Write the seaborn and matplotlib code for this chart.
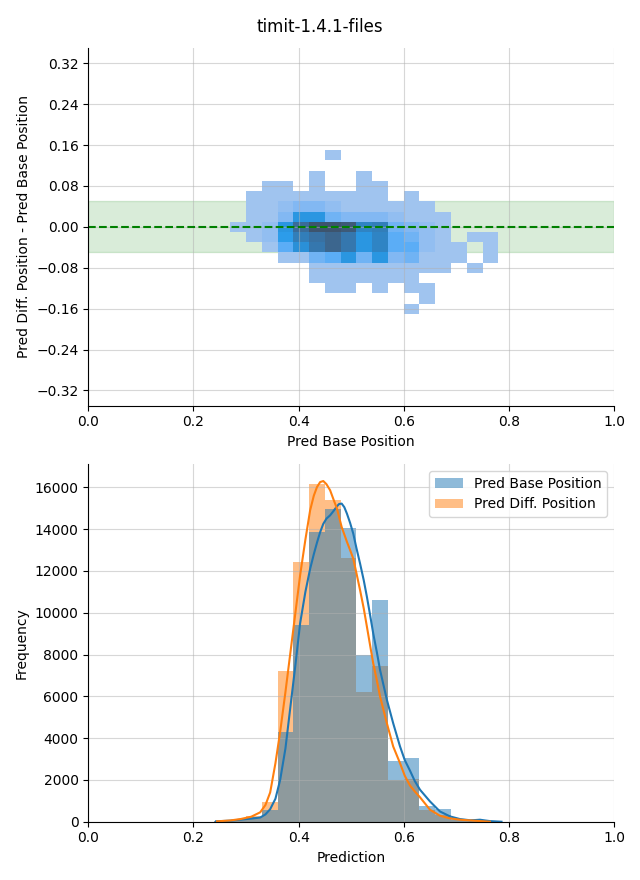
import numpy as np
import pandas as pd
import matplotlib
matplotlib.use("Agg")
import matplotlib.pyplot as plt
import seaborn as sns

# ---- top panel: 2D histogram (Pred Base Position vs difference) ----
# bin centres
base_centres = [0.285, 0.315, 0.345, 0.375, 0.405, 0.435, 0.465, 0.495, 0.525,
                0.555, 0.585, 0.615, 0.645, 0.675, 0.705, 0.735, 0.765]
diff_centres = [0.14, 0.12, 0.10, 0.08, 0.06, 0.04, 0.02, 0.00,
                -0.02, -0.04, -0.06, -0.08, -0.10, -0.12, -0.14, -0.16]
# relative counts per cell (rows = diff_centres, cols = base_centres)
cell_counts = [
    [0, 0, 0, 0, 0, 0, 1, 0, 0, 0, 0, 0, 0, 0, 0, 0, 0],
    [0, 0, 0, 0, 0, 0, 0, 0, 0, 0, 0, 0, 0, 0, 0, 0, 0],
    [0, 0, 0, 0, 0, 1, 0, 0, 1, 0, 0, 0, 0, 0, 0, 0, 0],
    [0, 0, 1, 1, 0, 1, 0, 0, 1, 1, 0, 0, 0, 0, 0, 0, 0],
    [0, 1, 1, 1, 1, 1, 1, 1, 1, 1, 0, 1, 0, 0, 0, 0, 0],
    [0, 1, 1, 2, 3, 3, 2, 1, 1, 1, 1, 1, 1, 0, 0, 0, 0],
    [0, 1, 1, 3, 9, 9, 4, 3, 3, 3, 2, 1, 1, 1, 0, 0, 0],
    [1, 1, 2, 9, 16, 20, 20, 19, 12, 13, 4, 3, 2, 1, 0, 0, 0],
    [0, 1, 2, 8, 13, 15, 17, 14, 9, 12, 5, 4, 2, 1, 0, 1, 1],
    [0, 0, 1, 5, 10, 14, 17, 14, 9, 12, 5, 5, 2, 1, 1, 0, 1],
    [0, 0, 0, 1, 1, 4, 5, 9, 4, 9, 3, 4, 1, 1, 1, 0, 1],
    [0, 0, 0, 0, 0, 1, 1, 1, 1, 1, 1, 1, 1, 1, 0, 1, 0],
    [0, 0, 0, 0, 0, 1, 1, 1, 1, 1, 1, 1, 0, 0, 0, 0, 0],
    [0, 0, 0, 0, 0, 0, 1, 1, 0, 1, 0, 1, 1, 0, 0, 0, 0],
    [0, 0, 0, 0, 0, 0, 0, 0, 0, 0, 0, 0, 1, 0, 0, 0, 0],
    [0, 0, 0, 0, 0, 0, 0, 0, 0, 0, 0, 1, 0, 0, 0, 0, 0],
]

# ---- bottom panel: histograms of the two predictions ----
pred_centres = [0.255, 0.285, 0.315, 0.345, 0.375, 0.405, 0.435, 0.465, 0.495,
                0.525, 0.555, 0.585, 0.615, 0.645, 0.675, 0.705, 0.735, 0.765]
base_counts = [20, 80, 220, 570, 4310, 9410, 13870, 14980, 14030,
               7980, 10600, 2910, 3040, 760, 605, 120, 60, 30]
diff_counts = [20, 90, 250, 920, 7210, 12420, 16140, 15380, 12620,
               6230, 7450, 2010, 2040, 560, 300, 80, 30, 5]

# kde curves
kde_base_x = [0.243, 0.27, 0.29, 0.31, 0.327, 0.337, 0.346, 0.356, 0.365, 0.375,
              0.384, 0.394, 0.403, 0.413, 0.422, 0.429, 0.435, 0.441, 0.447,
              0.453, 0.460, 0.466, 0.473, 0.477, 0.482, 0.487, 0.492, 0.498,
              0.504, 0.510, 0.517, 0.524, 0.530, 0.536, 0.542, 0.549, 0.555,
              0.568, 0.580, 0.593, 0.602, 0.612, 0.621, 0.631, 0.650, 0.669,
              0.688, 0.707, 0.726, 0.736, 0.745, 0.755, 0.764, 0.786]
kde_base_y = [20, 50, 100, 150, 200, 350, 600, 1100, 2000, 3500,
              5400, 7500, 9500, 11000, 12100, 12800, 13350, 13850, 14250,
              14500, 14660, 14850, 15090, 15200, 15220, 15050, 14740, 14300,
              13790, 13100, 12350, 11550, 10760, 9900, 9010, 8100, 7260,
              5830, 4710, 3600, 2950, 2440, 1950, 1530, 970, 490,
              255, 127, 70, 80, 96, 60, 30, 0]
kde_diff_x = [0.245, 0.27, 0.29, 0.31, 0.327, 0.337, 0.346, 0.356, 0.365, 0.375,
              0.384, 0.394, 0.403, 0.413, 0.422, 0.429, 0.435, 0.441, 0.447,
              0.453, 0.460, 0.466, 0.473, 0.482, 0.492, 0.498, 0.504, 0.510,
              0.517, 0.524, 0.530, 0.536, 0.542, 0.549, 0.555, 0.568, 0.580,
              0.593, 0.602, 0.612, 0.621, 0.631, 0.650, 0.669, 0.688, 0.707,
              0.726, 0.745, 0.764]
kde_diff_y = [20, 60, 130, 240, 450, 800, 1400, 2800, 4300, 6200,
              8000, 10000, 11800, 13500, 14900, 15600, 16010, 16250, 16300,
              16150, 15860, 15450, 14980, 14100, 13390, 13000, 12590, 11900,
              11080, 10200, 9330, 8450, 7580, 6750, 5990, 4710, 3600,
              2800, 2200, 1730, 1450, 1170, 573, 287, 160, 96,
              64, 30, 0]

labels = ["Pred Base Position", "Pred Diff. Position"]

fig, axes = plt.subplots(2, 1, figsize=(6.4, 8.8), dpi=100)

# top
gx, gy = np.meshgrid(base_centres, diff_centres)
cells = pd.DataFrame({"base": gx.ravel(), "diff": gy.ravel(),
                      "n": np.array(cell_counts).ravel()})
cells = cells[cells["n"] > 0]

ax = axes[0]
ax.axhspan(-0.05, 0.05, color="green", alpha=0.15)
sns.histplot(data=cells, x="base", y="diff", weights="n",
             bins=(17, 16), binrange=((0.27, 0.78), (-0.17, 0.15)), ax=ax)
ax.axhline(0, color="green", linestyle="--", linewidth=1.5)
ax.set_xlim(0, 1)
ax.set_ylim(-0.35, 0.35)
ax.set_yticks([-0.32, -0.24, -0.16, -0.08, 0.0, 0.08, 0.16, 0.24, 0.32])
ax.set_xlabel("Pred Base Position")
ax.set_ylabel("Pred Diff. Position - Pred Base Position")
ax.grid(True, alpha=0.5)
sns.despine(ax=ax)

# bottom
hist_df = pd.DataFrame({
    "Prediction": pred_centres * 2,
    "n": base_counts + diff_counts,
    "series": [labels[0]] * len(pred_centres) + [labels[1]] * len(pred_centres),
})
ax = axes[1]
sns.histplot(data=hist_df, x="Prediction", weights="n", hue="series",
             hue_order=labels, bins=18, binrange=(0.24, 0.78),
             alpha=0.5, linewidth=0, ax=ax)
sns.lineplot(x=kde_base_x, y=kde_base_y, color="C0", linewidth=1.5,
             legend=False, ax=ax)
sns.lineplot(x=kde_diff_x, y=kde_diff_y, color="C1", linewidth=1.5,
             legend=False, ax=ax)
sns.move_legend(ax, "upper right", title=None)
ax.set_xlim(0, 1)
ax.set_ylim(bottom=0)
ax.set_xlabel("Prediction")
ax.set_ylabel("Frequency")
ax.grid(True, alpha=0.5)
sns.despine(ax=ax)

fig.suptitle("timit-1.4.1-files")
fig.tight_layout()
fig.savefig("out.png", dpi=100)
